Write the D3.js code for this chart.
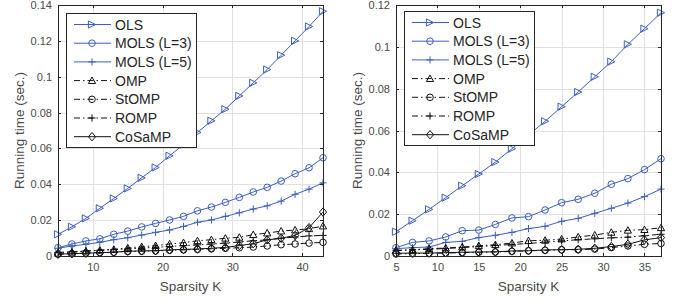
<!DOCTYPE html>
<html>
<head>
<meta charset="utf-8">
<title>Running time vs sparsity</title>
<style>
  body { margin: 0; background: #fff; }
  svg { display: block; font-family: "Liberation Sans", Arial, sans-serif; }
  .grid line { stroke: #e0e0e0; stroke-width: 1; shape-rendering: crispEdges; }
  .axis path, .axis line { stroke: #262626; shape-rendering: crispEdges; }
  .axis text { fill: #4a4a4a; font-size: 11px; }
  .lbl { fill: #4a4a4a; font-size: 13.5px; }
  .leg text { fill: #262626; font-size: 14px; }
</style>
</head>
<body>
<div id="chart"></div>
<script src="https://d3js.org/d3.v7.min.js"></script>
<script>
// sparsity levels
var kLeft  = d3.range(5, 44, 2);   // 5..43
var kRight = d3.range(5, 38, 2);   // 5..37

// left panel running times (sec.)
var leftOLS   = [0.0121,0.0163,0.0210,0.0266,0.0321,0.0377,0.0436,0.0494,0.0559,0.0622,0.0689,0.0754,0.0819,0.0893,0.0966,0.1040,0.1120,0.1200,0.1280,0.1365];
var leftMOLS3 = [0.0046,0.0067,0.0084,0.0096,0.0121,0.0139,0.0162,0.0182,0.0201,0.0221,0.0252,0.0273,0.0299,0.0327,0.0357,0.0383,0.0418,0.0459,0.0492,0.0548];
var leftMOLS5 = [0.0043,0.0056,0.0065,0.0076,0.0091,0.0102,0.0117,0.0132,0.0145,0.0165,0.0188,0.0201,0.0221,0.0241,0.0262,0.0280,0.0306,0.0344,0.0373,0.0408];
var leftOMP   = [0.0015,0.0021,0.0027,0.0032,0.0037,0.0045,0.0052,0.0058,0.0067,0.0074,0.0085,0.0091,0.0099,0.0104,0.0119,0.0128,0.0139,0.0145,0.0152,0.0167];
var leftStOMP = [0.0010,0.0013,0.0017,0.0019,0.0021,0.0025,0.0027,0.0028,0.0032,0.0034,0.0037,0.0040,0.0043,0.0046,0.0050,0.0056,0.0063,0.0067,0.0072,0.0076];
var leftROMP  = [0.0020,0.0024,0.0028,0.0032,0.0036,0.0040,0.0044,0.0049,0.0053,0.0058,0.0062,0.0067,0.0072,0.0078,0.0085,0.0090,0.0099,0.0106,0.0112,0.0115];
var leftCoSaMP= [0.0010,0.0013,0.0015,0.0019,0.0021,0.0027,0.0028,0.0030,0.0034,0.0037,0.0039,0.0043,0.0048,0.0058,0.0069,0.0090,0.0099,0.0115,0.0158,0.0245];

// right panel running times (sec.)
var rightOLS   = [0.0116,0.0169,0.0223,0.0279,0.0336,0.0392,0.0449,0.0513,0.0578,0.0644,0.0714,0.0784,0.0857,0.0929,0.1012,0.1087,0.1163];
var rightMOLS3 = [0.0040,0.0065,0.0072,0.0091,0.0121,0.0124,0.0151,0.0182,0.0188,0.0220,0.0255,0.0271,0.0300,0.0343,0.0370,0.0413,0.0465];
var rightMOLS5 = [0.0035,0.0040,0.0043,0.0065,0.0070,0.0088,0.0099,0.0113,0.0131,0.0142,0.0166,0.0180,0.0204,0.0228,0.0253,0.0284,0.0320];
var rightOMP   = [0.0027,0.0030,0.0035,0.0038,0.0043,0.0049,0.0054,0.0062,0.0073,0.0075,0.0081,0.0091,0.0100,0.0113,0.0123,0.0126,0.0135];
var rightStOMP = [0.0010,0.0011,0.0013,0.0014,0.0016,0.0018,0.0019,0.0022,0.0025,0.0027,0.0030,0.0030,0.0033,0.0040,0.0048,0.0056,0.0060];
var rightROMP  = [0.0025,0.0030,0.0032,0.0036,0.0040,0.0045,0.0050,0.0055,0.0060,0.0066,0.0072,0.0078,0.0082,0.0087,0.0090,0.0097,0.0104];
var rightCoSaMP= [0.0013,0.0014,0.0014,0.0016,0.0018,0.0019,0.0020,0.0024,0.0025,0.0029,0.0030,0.0032,0.0037,0.0045,0.0056,0.0077,0.0088];

var names   = ["OLS", "MOLS (L=3)", "MOLS (L=5)", "OMP", "StOMP", "ROMP", "CoSaMP"];
var markers = ["tri", "circle", "plus", "tri", "circle", "plus", "diamond"];
var dashes  = [null, null, null, "6,3,1.5,3", "6,3,1.5,3", "6,3,1.5,3", null];
var blue = "#3a5fbd", black = "#111";
var colors  = [blue, blue, blue, black, black, black, black];

var yTicksLeft  = [0, 0.02, 0.04, 0.06, 0.08, 0.1, 0.12, 0.14];
var yTicksRight = [0, 0.02, 0.04, 0.06, 0.08, 0.1, 0.12];
var xTicksLeft  = [10, 20, 30, 40];
var xTicksRight = [5, 10, 15, 20, 25, 30, 35];

var svg = d3.select("#chart").append("svg")
    .attr("width", 683)
    .attr("height", 301);

function drawMarker(g, type, x, y, col) {
    var s = 3.6;
    if (type == "circle") {
        g.append("circle").attr("cx", x).attr("cy", y).attr("r", 3.3)
            .attr("fill", "none").attr("stroke", col);
    } else if (type == "tri") {
        // right-pointing for OLS, up-pointing for OMP
        var pts = col == blue
            ? [[x + s, y], [x - s, y - s], [x - s, y + s]]
            : [[x, y - s], [x + s, y + s * 0.8], [x - s, y + s * 0.8]];
        g.append("polygon").attr("points", pts.join(" "))
            .attr("fill", "none").attr("stroke", col);
    } else if (type == "plus") {
        g.append("path").attr("d", "M" + (x - s) + "," + y + "H" + (x + s) + "M" + x + "," + (y - s) + "V" + (y + s))
            .attr("fill", "none").attr("stroke", col);
    } else if (type == "diamond") {
        var pts = [[x, y - s - 0.6], [x + s, y], [x, y + s + 0.6], [x - s, y]];
        g.append("polygon").attr("points", pts.join(" "))
            .attr("fill", "none").attr("stroke", col);
    }
}

function drawPanel(left, right, ks, series, yMax, yTicks, xTicks, legX, legY, labX) {
    var top = 5, bottom = 256;
    var x = d3.scaleLinear().domain([ks[0], ks[ks.length - 1]]).range([left, right]);
    var y = d3.scaleLinear().domain([0, yMax]).range([bottom, top]);

    var g = svg.append("g");

    // grid
    var grid = g.append("g").attr("class", "grid");
    grid.selectAll(".gx").data(xTicks).enter().append("line")
        .attr("x1", function(d){ return Math.round(x(d)) + 0.5; })
        .attr("x2", function(d){ return Math.round(x(d)) + 0.5; })
        .attr("y1", top).attr("y2", bottom);
    grid.selectAll(".gy").data(yTicks).enter().append("line")
        .attr("y1", function(d){ return Math.round(y(d)) + 0.5; })
        .attr("y2", function(d){ return Math.round(y(d)) + 0.5; })
        .attr("x1", left).attr("x2", right);

    // series
    var line = d3.line().x(function(d){ return x(d[0]); }).y(function(d){ return y(d[1]); });
    series.forEach(function(vals, i) {
        var pts = ks.map(function(k, j){ return [k, vals[j]]; });
        var sg = g.append("g");
        sg.append("path").datum(pts)
            .attr("d", line)
            .attr("fill", "none")
            .attr("stroke", colors[i])
            .attr("stroke-width", 1)
            .attr("stroke-dasharray", dashes[i]);
        pts.forEach(function(p){ drawMarker(sg, markers[i], x(p[0]), y(p[1]), colors[i]); });
    });

    // axes (ticks inward, box on)
    var fmt = function(d){ return d === 0 ? "0" : String(+d.toFixed(2)); };
    g.append("g").attr("class", "axis")
        .attr("transform", "translate(0," + bottom + ")")
        .call(d3.axisBottom(x).tickValues(xTicks).tickSize(-3).tickSizeOuter(0).tickPadding(7));
    g.append("g").attr("class", "axis")
        .attr("transform", "translate(" + left + ",0)")
        .call(d3.axisLeft(y).tickValues(yTicks).tickFormat(fmt).tickSize(-3).tickSizeOuter(0).tickPadding(6));
    g.append("g").attr("class", "axis")
        .attr("transform", "translate(0," + top + ")")
        .call(d3.axisTop(x).tickValues(xTicks).tickSize(-3).tickSizeOuter(0).tickFormat(""));
    g.append("g").attr("class", "axis")
        .attr("transform", "translate(" + right + ",0)")
        .call(d3.axisRight(y).tickValues(yTicks).tickSize(-3).tickSizeOuter(0).tickFormat(""));

    // axis labels
    g.append("text").attr("class", "lbl")
        .attr("x", (left + right) / 2).attr("y", 291)
        .attr("text-anchor", "middle").text("Sparsity K");
    g.append("text").attr("class", "lbl")
        .attr("transform", "translate(" + labX + "," + ((top + bottom) / 2) + ") rotate(-90)")
        .attr("text-anchor", "middle").text("Running time (sec.)");

    // legend
    var leg = g.append("g").attr("class", "leg");
    leg.append("rect").attr("x", legX + 0.5).attr("y", legY + 0.5)
        .attr("width", 130).attr("height", 134)
        .attr("fill", "#fff").attr("stroke", "#262626");
    names.forEach(function(n, i) {
        var cy = legY + 11.5 + i * 18.7;
        leg.append("line").attr("x1", legX + 8).attr("x2", legX + 45)
            .attr("y1", cy).attr("y2", cy)
            .attr("stroke", colors[i]).attr("stroke-dasharray", dashes[i]);
        drawMarker(leg, markers[i], legX + 26, cy, colors[i]);
        leg.append("text").attr("x", legX + 49).attr("y", cy + 5).text(n);
    });
}

drawPanel(58, 323, kLeft,
    [leftOLS, leftMOLS3, leftMOLS5, leftOMP, leftStOMP, leftROMP, leftCoSaMP],
    0.14, yTicksLeft, xTicksLeft, 66, 13, 24);
drawPanel(396, 661, kRight,
    [rightOLS, rightMOLS3, rightMOLS5, rightOMP, rightStOMP, rightROMP, rightCoSaMP],
    0.12, yTicksRight, xTicksRight, 404, 11, 362);
</script>
</body>
</html>
